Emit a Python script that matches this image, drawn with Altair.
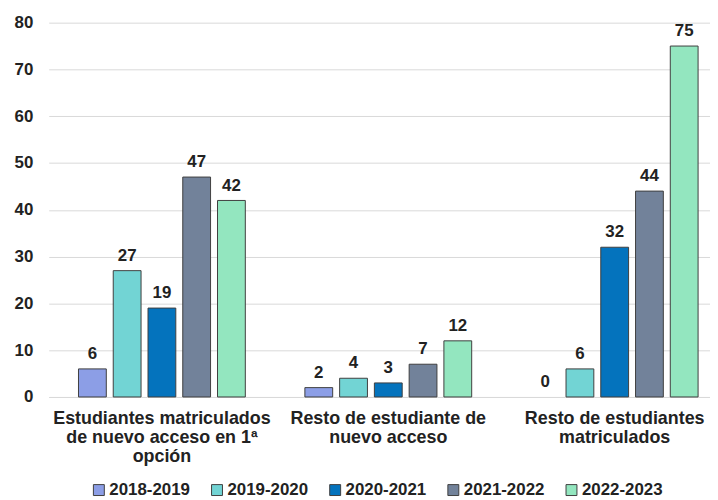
import altair as alt
import pandas as pd

categories = [
    "Estudiantes matriculados de nuevo acceso en 1ª opción",
    "Resto de estudiante de nuevo acceso",
    "Resto de estudiantes matriculados",
]
label_lines = [
    ["Estudiantes matriculados", "de nuevo acceso en 1ª", "opción"],
    ["Resto de estudiante de", "nuevo acceso"],
    ["Resto de estudiantes", "matriculados"],
]
years = ["2018-2019", "2019-2020", "2020-2021", "2021-2022", "2022-2023"]
v_2018_2019 = [6, 2, 0]
v_2019_2020 = [27, 4, 6]
v_2020_2021 = [19, 3, 32]
v_2021_2022 = [47, 7, 44]
v_2022_2023 = [42, 12, 75]
colors = ["#8C9EE6", "#72D4D4", "#0473BD", "#72829A", "#93E6BF"]

series = [v_2018_2019, v_2019_2020, v_2020_2021, v_2021_2022, v_2022_2023]
rows = []
for y, vals in zip(years, series):
    for c, v in zip(categories, vals):
        rows.append({"cat": c, "year": y, "value": v})
df = pd.DataFrame(rows)

def q(s):
    return "'" + s.replace("'", "\\'") + "'"

expr = "datum.label"
for c, lines in reversed(list(zip(categories, label_lines))):
    expr = f"datum.label == {q(c)} ? [{', '.join(q(l) for l in lines)}] : ({expr})"

FONT = "Liberation Sans"
TXT = "#222222"

x = alt.X("cat:N", sort=categories, title=None,
          scale=alt.Scale(range=[0, 684], paddingInner=0, paddingOuter=0),
          axis=alt.Axis(labelExpr=expr, labelAngle=0, labelFont=FONT, labelFontSize=18,
                        labelFontWeight="bold", labelColor=TXT, labelLineHeight=19,
                        labelBaseline="top", labelPadding=13, ticks=False,
                        domainColor="#d9d9d9", labelLimit=300))
xo = alt.XOffset("year:N", sort=years,
                 scale=alt.Scale(paddingInner=0.2, paddingOuter=0.857))
y = alt.Y("value:Q", title=None,
          scale=alt.Scale(domain=[0, 80]),
          axis=alt.Axis(values=list(range(0, 81, 10)), labelFont=FONT, labelFontSize=17,
                        labelFontWeight="bold", labelColor=TXT, labelPadding=16,
                        ticks=False, domain=False, gridColor="#d9d9d9"))

base = alt.Chart(df)
bars = base.mark_bar(stroke="#404040", strokeWidth=1).encode(
    x=x, xOffset=xo, y=y,
    strokeOpacity=alt.condition("datum.value == 0", alt.value(0), alt.value(1)),
    color=alt.Color("year:N", sort=years, title=None,
                    scale=alt.Scale(domain=years, range=colors),
                    legend=alt.Legend(orient="none", direction="horizontal",
                                      legendX=42, legendY=462,
                                      symbolType="square", symbolSize=121,
                                      symbolStrokeColor="#404040", symbolStrokeWidth=1,
                                      labelFont=FONT, labelFontSize=17, labelFontWeight="bold",
                                      labelColor=TXT, labelOffset=2, columnPadding=18)),
)
labels = base.mark_text(baseline="bottom", dy=-6, font=FONT, fontSize=17,
                        fontWeight="bold", color=TXT).encode(
    x=x, xOffset=xo, y=y, text="value:Q")

chart = (bars + labels).properties(
    width=666, height=377,
    autosize=alt.AutoSizeParams(type="none"),
    padding={"left": 41, "top": 13, "right": 0, "bottom": 102},
).configure_view(stroke=None)

chart.save("out.html", embed_options={"renderer": "svg", "actions": False})
